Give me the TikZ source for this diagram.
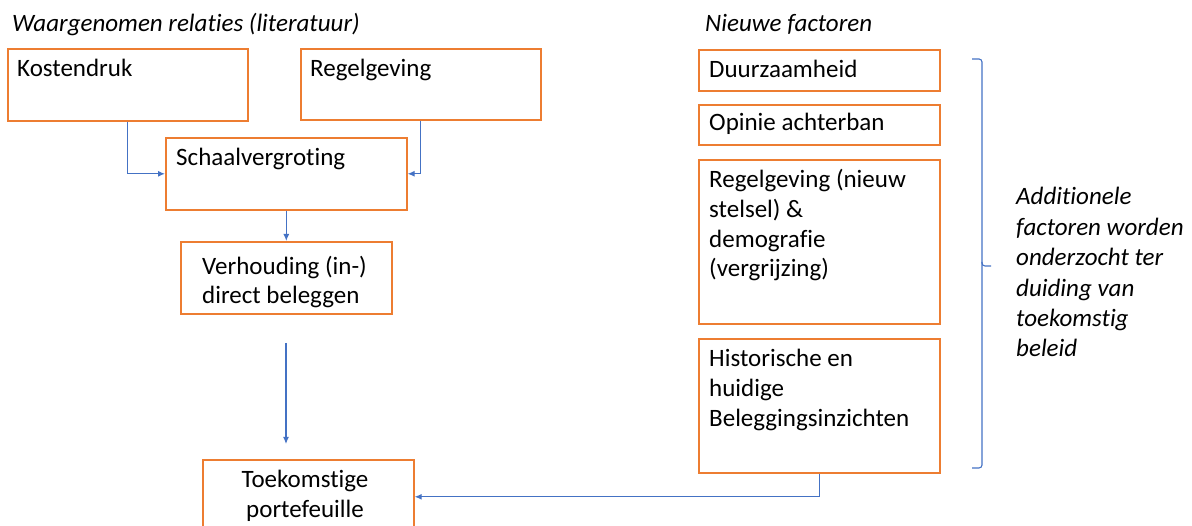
\documentclass[tikz,border=0pt]{standalone}
\usepackage{fontspec}
\setmainfont{Carlito}[Ligatures=NoCommon]
\usetikzlibrary{arrows.meta}
\definecolor{boxorange}{HTML}{ED7D31}
\definecolor{linkblue}{HTML}{4472C4}
\begin{document}
\begin{tikzpicture}[x=1pt,y=-1pt,
  box/.style={draw=boxorange, line width=1.6pt, anchor=north west, inner sep=0pt},
  txt/.style={anchor=base west, inner sep=0pt, align=left, font=\fontsize{25}{30}\selectfont},
  ttl/.style={anchor=base west, inner sep=0pt, align=left, font=\fontsize{25}{30.4}\selectfont\itshape},
  link/.style={draw=linkblue, line width=1.2pt, -{Latex[length=7pt,width=6pt]}},
  brace/.style={draw=linkblue, line width=1.1pt, rounded corners=3pt}]
\useasboundingbox (0,0) rectangle (1192,526);
\clip (0,0) rectangle (1192,526);
% titles
\node[ttl] (t-lit) at (12,32) {Waargenomen relaties (literatuur)};
\node[ttl] (t-new) at (705,32) {Nieuwe factoren};
% left boxes
\node[box, minimum width=240pt, minimum height=72pt] (kost) at (7,48) {};
\node[box, minimum width=240pt, minimum height=71pt] (regel) at (300,48) {};
\node[box, minimum width=241pt, minimum height=72pt] (schaal) at (165,137) {};
\node[box, minimum width=211pt, minimum height=72pt] (verh) at (180,241) {};
\node[box, minimum width=211pt, minimum height=74pt] (toek) at (202,459) {};
\node[txt] (kost-t) at (17,77) {Kostendruk};
\node[txt] (regel-t) at (310,77) {Regelgeving};
\node[txt] (schaal-t) at (176,166) {Schaalvergroting};
\node[txt, font=\fontsize{25}{29}\selectfont] (verh-t) at (202,304) {Verhouding (in-)\\direct beleggen};
\node[txt, anchor=base, align=center, font=\fontsize{25}{29.5}\selectfont] (toek-t) at (305,517) {Toekomstige\\portefeuille};
% right boxes
\node[box, minimum width=241pt, minimum height=41pt] (duur) at (698,49) {};
\node[box, minimum width=241pt, minimum height=40pt] (opin) at (698,104) {};
\node[box, minimum width=241pt, minimum height=164pt] (regn) at (698,159) {};
\node[box, minimum width=241pt, minimum height=134pt] (hist) at (698,338) {};
\node[txt] (duur-t) at (709,78) {Duurzaamheid};
\node[txt] (opin-t) at (709,131) {Opinie achterban};
\node[txt, font=\fontsize{25}{29.7}\selectfont] (regn-t) at (709,277) {Regelgeving (nieuw\\stelsel) \&\\demografie\\(vergrijzing)};
\node[txt] (hist-t) at (709,427) {Historische en\\huidige\\Beleggingsinzichten};
% brace and note
\draw[brace] (972,59) -- (982,59) -- (982,266) -- (991,266);
\draw[brace] (982,262) -- (982,468) -- (972,468);
\node[ttl] (note) at (1016,357) {Additionele\\factoren worden\\onderzocht ter\\duiding van\\toekomstig\\beleid};
% connectors
\draw[link] (kost.south) |- (schaal.west);
\draw[link] (regel.south) |- (schaal.east);
\draw[link] (schaal.south) -- (schaal.south |- verh.north);
\coordinate (fa) at (286,343);
\coordinate (fb) at (286,444);
\draw[link] (fa) -- (fb);
\draw[link] (hist.south) |- (toek.east);
\end{tikzpicture}
\end{document}
